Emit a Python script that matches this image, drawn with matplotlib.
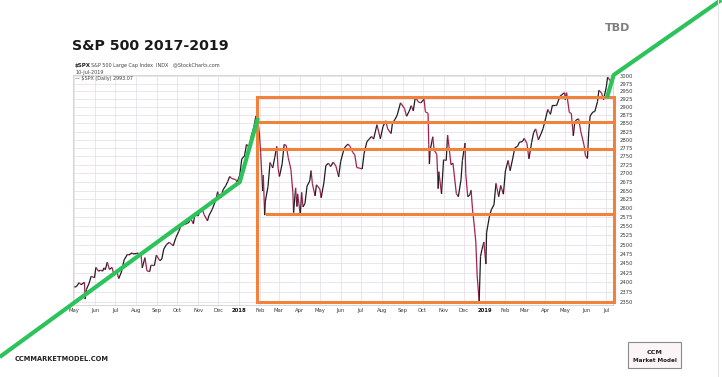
import numpy as np
import pandas as pd
import matplotlib
matplotlib.use("Agg")
import matplotlib.pyplot as plt
from matplotlib.collections import LineCollection
from matplotlib.lines import Line2D
from matplotlib.patches import Rectangle
import matplotlib.dates as mdates

# S&P 500 closes
dates = [
    "2017-05-01", "2017-05-04", "2017-05-08", "2017-05-11", "2017-05-16", "2017-05-17", "2017-05-19",
    "2017-05-23", "2017-05-26", "2017-05-31", "2017-06-02", "2017-06-06", "2017-06-09", "2017-06-12",
    "2017-06-14", "2017-06-16", "2017-06-19", "2017-06-22", "2017-06-26", "2017-06-29", "2017-07-03",
    "2017-07-06", "2017-07-10", "2017-07-14", "2017-07-19", "2017-07-21", "2017-07-26", "2017-07-27",
    "2017-08-01", "2017-08-04", "2017-08-08", "2017-08-10", "2017-08-14", "2017-08-17", "2017-08-21",
    "2017-08-23", "2017-08-28", "2017-08-31", "2017-09-05", "2017-09-08", "2017-09-11", "2017-09-15",
    "2017-09-19", "2017-09-22", "2017-09-25", "2017-09-29", "2017-10-03", "2017-10-06", "2017-10-11",
    "2017-10-16", "2017-10-19", "2017-10-20", "2017-10-25", "2017-10-27", "2017-11-01", "2017-11-03",
    "2017-11-08", "2017-11-10", "2017-11-15", "2017-11-17", "2017-11-22", "2017-11-28", "2017-11-30",
    "2017-12-01", "2017-12-05", "2017-12-08", "2017-12-12", "2017-12-15", "2017-12-18", "2017-12-21",
    "2017-12-27", "2017-12-29",
    "2018-01-02", "2018-01-05", "2018-01-09", "2018-01-12", "2018-01-16", "2018-01-19", "2018-01-23",
    "2018-01-26", "2018-01-29", "2018-01-31", "2018-02-02", "2018-02-05", "2018-02-06", "2018-02-08",
    "2018-02-09", "2018-02-13", "2018-02-16", "2018-02-20", "2018-02-23", "2018-02-26", "2018-02-28",
    "2018-03-02", "2018-03-06", "2018-03-09", "2018-03-12", "2018-03-15", "2018-03-19", "2018-03-22",
    "2018-03-23", "2018-03-26", "2018-03-28", "2018-03-29", "2018-04-02", "2018-04-04", "2018-04-06",
    "2018-04-09", "2018-04-12", "2018-04-16", "2018-04-18", "2018-04-20", "2018-04-24", "2018-04-26",
    "2018-05-01", "2018-05-03", "2018-05-07", "2018-05-10", "2018-05-14", "2018-05-17", "2018-05-21",
    "2018-05-25", "2018-05-29", "2018-06-01", "2018-06-06", "2018-06-08", "2018-06-12", "2018-06-15",
    "2018-06-19", "2018-06-22", "2018-06-25", "2018-06-28", "2018-07-03", "2018-07-06", "2018-07-10",
    "2018-07-13", "2018-07-17", "2018-07-20", "2018-07-25", "2018-07-30", "2018-08-03", "2018-08-07",
    "2018-08-10", "2018-08-15", "2018-08-17", "2018-08-21", "2018-08-24", "2018-08-29", "2018-09-04",
    "2018-09-07", "2018-09-11", "2018-09-14", "2018-09-17", "2018-09-20", "2018-09-25", "2018-09-28",
    "2018-10-03", "2018-10-05", "2018-10-09", "2018-10-10", "2018-10-11", "2018-10-12", "2018-10-16",
    "2018-10-18", "2018-10-22", "2018-10-24", "2018-10-25", "2018-10-29", "2018-11-01", "2018-11-05",
    "2018-11-07", "2018-11-09", "2018-11-12", "2018-11-15", "2018-11-20", "2018-11-23", "2018-11-27",
    "2018-11-29", "2018-12-03", "2018-12-04", "2018-12-07", "2018-12-10", "2018-12-12", "2018-12-14",
    "2018-12-17", "2018-12-19", "2018-12-21", "2018-12-24", "2018-12-26", "2018-12-28", "2018-12-31",
    "2019-01-03", "2019-01-04", "2019-01-08", "2019-01-11", "2019-01-15", "2019-01-18", "2019-01-22",
    "2019-01-25", "2019-01-29", "2019-02-01", "2019-02-05", "2019-02-08", "2019-02-12", "2019-02-15",
    "2019-02-19", "2019-02-22", "2019-02-26", "2019-03-01", "2019-03-05", "2019-03-08", "2019-03-12",
    "2019-03-15", "2019-03-18", "2019-03-22", "2019-03-26", "2019-03-29", "2019-04-02", "2019-04-05",
    "2019-04-09", "2019-04-12", "2019-04-16", "2019-04-18", "2019-04-23", "2019-04-26", "2019-04-30",
    "2019-05-01", "2019-05-03", "2019-05-07", "2019-05-10", "2019-05-13", "2019-05-15", "2019-05-17",
    "2019-05-21", "2019-05-24", "2019-05-29", "2019-05-31", "2019-06-03", "2019-06-05", "2019-06-07",
    "2019-06-11", "2019-06-14", "2019-06-18", "2019-06-20", "2019-06-24", "2019-06-27", "2019-07-01",
    "2019-07-03", "2019-07-05", "2019-07-09", "2019-07-10",
]
closes = [
    2388, 2389, 2399, 2394, 2400, 2357, 2382,
    2398, 2416, 2412, 2439, 2429, 2432, 2429,
    2438, 2433, 2453, 2434, 2439, 2419, 2429,
    2410, 2427, 2459, 2474, 2472, 2478, 2475,
    2476, 2477, 2474, 2438, 2465, 2430, 2428,
    2445, 2444, 2472, 2457, 2461, 2488, 2500,
    2506, 2502, 2497, 2519, 2535, 2549, 2555,
    2558, 2562, 2575, 2557, 2581, 2579, 2588,
    2594, 2582, 2565, 2579, 2597, 2627, 2647,
    2642, 2630, 2652, 2664, 2676, 2691, 2685,
    2682, 2674,
    2695, 2743, 2751, 2786, 2777, 2810, 2839,
    2873, 2853, 2824, 2762, 2649, 2695, 2581,
    2620, 2662, 2732, 2716, 2747, 2780, 2714,
    2691, 2728, 2786, 2783, 2747, 2712, 2644,
    2588, 2658, 2605, 2641, 2582, 2645, 2604,
    2614, 2663, 2678, 2708, 2670, 2635, 2667,
    2655, 2630, 2672, 2723, 2730, 2720, 2733,
    2721, 2690, 2735, 2772, 2779, 2787, 2780,
    2762, 2755, 2717, 2716, 2713, 2760, 2794,
    2801, 2810, 2802, 2846, 2803, 2840, 2858,
    2833, 2819, 2850, 2863, 2875, 2914, 2896,
    2872, 2888, 2905, 2889, 2931, 2916, 2914,
    2925, 2886, 2881, 2786, 2728, 2767, 2809,
    2769, 2756, 2656, 2705, 2641, 2740, 2738,
    2814, 2781, 2726, 2730, 2642, 2633, 2682,
    2738, 2790, 2700, 2633, 2638, 2651, 2600,
    2546, 2507, 2417, 2351, 2468, 2486, 2507,
    2448, 2532, 2575, 2596, 2610, 2671, 2633,
    2665, 2640, 2707, 2738, 2708, 2745, 2776,
    2780, 2793, 2794, 2804, 2789, 2743, 2792,
    2822, 2833, 2800, 2818, 2834, 2867, 2893,
    2878, 2907, 2907, 2905, 2934, 2940, 2946,
    2924, 2946, 2884, 2881, 2812, 2851, 2860,
    2864, 2826, 2783, 2752, 2744, 2827, 2873,
    2885, 2887, 2918, 2954, 2945, 2924, 2964,
    2996, 2990, 2979, 2993,
]

# y axis (log scale, right side) and month labels
y_ticks = list(range(2350, 3001, 25))
month_starts = pd.date_range("2017-05-01", "2019-07-01", freq="MS")
month_labels = ["May", "Jun", "Jul", "Aug", "Sep", "Oct", "Nov", "Dec",
                "2018", "Feb", "Mar", "Apr", "May", "Jun", "Jul", "Aug", "Sep", "Oct", "Nov", "Dec",
                "2019", "Feb", "Mar", "Apr", "May", "Jun", "Jul"]

# orange support / resistance boxes drawn over the chart
box_start, box_end = "2018-01-27", "2019-07-13"
box_top, box_bottom = 2934, 2350
level_lines = [("2018-01-27", 2855), ("2018-02-04", 2773), ("2018-02-11", 2584)]

# green trend sketch
trend1_dates = ["2017-01-10", "2018-01-02", "2018-01-29"]
trend1_levels = [2214, 2675, 2867]
trend2_dates = ["2019-07-02", "2019-07-12", "2019-12-19"]
trend2_levels = [2930, 3003, 3257]

W, H = 722, 377
fig = plt.figure(figsize=(W / 100, H / 100), dpi=100)
fig.patch.set_facecolor("white")

ax = fig.add_axes([73 / W, 1 - 305 / H, 540 / W, 230 / H])
ax.set_yscale("log")

x = mdates.date2num(pd.to_datetime(dates))
y = np.array(closes, dtype=float)

# StockCharts style: black up moves, crimson down moves
pts = np.column_stack([x, y]).reshape(-1, 1, 2)
segs = np.concatenate([pts[:-1], pts[1:]], axis=1)
cols = ["#1e1e1e" if d >= 0 else "#a3224f" for d in np.diff(y)]
ax.add_collection(LineCollection(segs, colors=cols, linewidths=0.9, zorder=3))

ax.set_xlim(mdates.date2num(pd.Timestamp("2017-04-29")), mdates.date2num(pd.Timestamp("2019-07-11")))
ax.set_ylim(2342, 3003)

ax.yaxis.tick_right()
ax.set_yticks(y_ticks)
ax.set_yticklabels([str(v) for v in y_ticks])
ax.yaxis.set_minor_locator(matplotlib.ticker.NullLocator())
ax.set_xticks(mdates.date2num(month_starts))
ax.set_xticklabels(month_labels)
ax.tick_params(axis="both", length=0, labelsize=3.8, colors="#3a3a3a")
ax.tick_params(axis="y", pad=5)
ax.tick_params(axis="x", pad=2.5)
for lbl in ax.get_xticklabels():
    if lbl.get_text() in ("2018", "2019"):
        lbl.set_fontweight("bold")
        lbl.set_color("#111111")

ax.grid(True, color="#e8e1ec", linewidth=0.6, zorder=0)
for s in ax.spines.values():
    s.set_color("#d0d0d0")
    s.set_linewidth(0.6)

# orange boxes
orange = "#f0823c"
bx0 = mdates.date2num(pd.Timestamp(box_start))
bx1 = mdates.date2num(pd.Timestamp(box_end))
ax.plot([bx0, bx0, bx1, bx1, bx0], [box_top, box_bottom, box_bottom, box_top, box_top],
        color=orange, lw=2.2, clip_on=False, zorder=4, solid_joinstyle="miter")
for d, lvl in level_lines:
    ax.plot([mdates.date2num(pd.Timestamp(d)), bx1], [lvl, lvl], color=orange, lw=2.2,
            clip_on=False, zorder=4)

# green trend lines
green = "#2cc35b"
ax.plot(mdates.date2num(pd.to_datetime(trend1_dates)), trend1_levels, color=green, lw=3,
        clip_on=False, zorder=5, solid_capstyle="butt")
ax.plot(mdates.date2num(pd.to_datetime(trend2_dates)), trend2_levels, color=green, lw=3,
        clip_on=False, zorder=5, solid_capstyle="butt")

# StockCharts header
fig.text(75 / W, 1 - 66 / H, "$SPX", fontsize=4, fontweight="bold", color="#222222", va="center")
fig.text(91 / W, 1 - 66 / H, "S&P 500 Large Cap Index  INDX   @StockCharts.com", fontsize=3.5,
         color="#444444", va="center")
fig.text(75 / W, 1 - 72.5 / H, "10-Jul-2019", fontsize=3.5, color="#444444", va="center")
fig.text(75 / W, 1 - 78.5 / H, "\u2014 $SPX (Daily) 2993.07", fontsize=3.5, color="#444444", va="center")

# slide text
fig.text(72 / W, 1 - 46 / H, "S&P 500 2017-2019", fontsize=10.2, fontweight="bold", color="#1a1a1a",
         va="center", ha="left")
fig.text(605 / W, 1 - 28 / H, "TBD", fontsize=8, fontweight="bold", color="#7f7f7f", va="center")
fig.text(15 / W, 1 - 359 / H, "CCMMARKETMODEL.COM", fontsize=4.8, fontweight="bold", color="#222222",
         va="center")

# logo
fig.add_artist(Rectangle((628 / W, 1 - 368 / H), 53 / W, 26 / H, transform=fig.transFigure,
                         facecolor="#fbf5f8", edgecolor="#8a8a8a", lw=0.8))
fig.text(655 / W, 1 - 352 / H, "CCM", fontsize=4.6, fontweight="bold", color="#222222", ha="center",
         va="center")
fig.text(655 / W, 1 - 361 / H, "Market Model", fontsize=4.1, fontweight="bold", color="#222222",
         ha="center", va="center")

fig.add_artist(Line2D([718 / W, 718 / W], [0, 1], transform=fig.transFigure, color="#e4e4e4", lw=0.8))

fig.savefig("out.png", dpi=100, facecolor="white")
